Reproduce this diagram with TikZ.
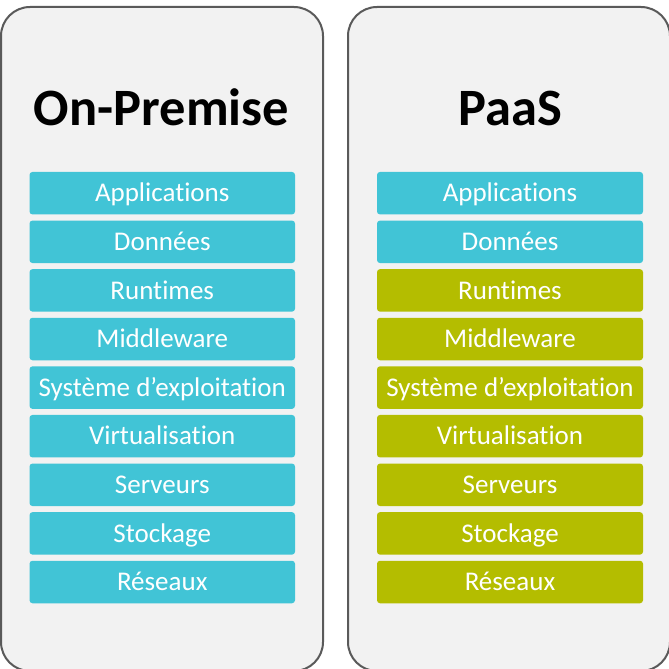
\documentclass[tikz,border=0pt]{standalone}
\usepackage{fontspec}
\setmainfont{Carlito}[Ligatures={NoCommon}]
\definecolor{panelfill}{HTML}{F2F2F2}
\definecolor{paneldraw}{HTML}{5A5A5A}
\definecolor{cyanbox}{HTML}{41C4D6}
\definecolor{olivebox}{HTML}{B4BD00}
\tikzset{
  panel/.style={draw=paneldraw, fill=panelfill, line width=2pt, rounded corners=29pt},
  layer/.style={rounded corners=3pt, minimum width=#1, minimum height=42.5pt, inner sep=0pt,
    text=white, font=\fontsize{27}{30}\selectfont, text height=20pt, text depth=2.6pt},
  cyanlayer/.style={layer=265.5pt, fill=cyanbox},
  olivelayer/.style={layer=266pt, fill=olivebox},
  title/.style={anchor=base, font=\fontsize{52.5}{58}\selectfont\bfseries, text=black, inner sep=0pt}
}
\begin{document}
\begin{tikzpicture}[x=1pt,y=-1pt]
\useasboundingbox[fill=white] (0,0) rectangle (669,669);
\begin{scope}
\clip (0,0) rectangle (669,669);
\draw[panel] (1,7) rectangle (323,671);
\draw[panel] (348,7) rectangle (670,671);
\end{scope}
\node[title] (t1) at (161.5,125) {On-Premise};
\node[title] (t2) at (510,125) {PaaS};
\foreach \name/\lab [count=\i from 0] in {a/Applications,b/Données,c/Runtimes,d/Middleware,e/Système d’exploitation,f/Virtualisation,g/Serveurs,h/Stockage,k/Réseaux}{
  \node[cyanlayer] (L\name) at (162.25,{193.2+48.6*\i}) {\lab};
}
\foreach \name/\lab [count=\i from 0] in {a/Applications,b/Données}{
  \node[cyanlayer, minimum width=266pt] (R\name) at (510,{193.2+48.6*\i}) {\lab};
}
\foreach \name/\lab [count=\i from 2] in {c/Runtimes,d/Middleware,e/Système d’exploitation,f/Virtualisation,g/Serveurs,h/Stockage,k/Réseaux}{
  \node[olivelayer] (R\name) at (510,{193.2+48.6*\i}) {\lab};
}
\end{tikzpicture}
\end{document}
